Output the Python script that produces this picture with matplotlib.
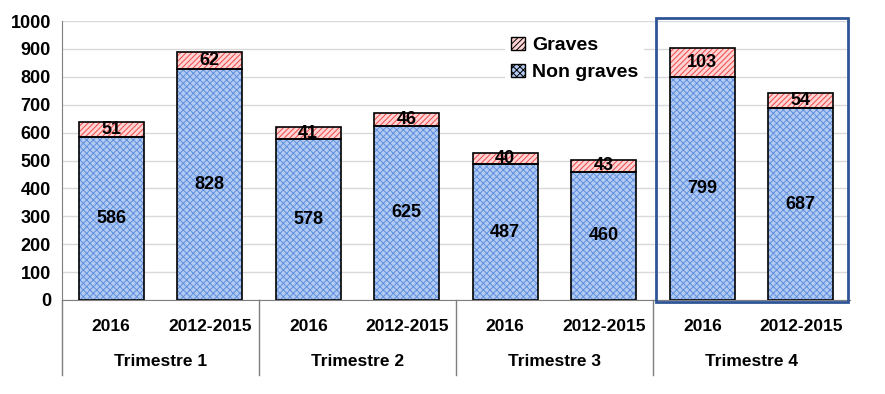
import matplotlib

matplotlib.use("Agg")
import matplotlib.pyplot as plt
from matplotlib.patches import Rectangle, Patch
import numpy as np

plt.rcParams["font.family"] = ["Liberation Sans", "DejaVu Sans"]
plt.rcParams["hatch.linewidth"] = 0.7

quarters = ["Trimestre 1", "Trimestre 2", "Trimestre 3", "Trimestre 4"]
periods = ["2016", "2012-2015"]
non_graves = [586, 828, 578, 625, 487, 460, 799, 687]
graves = [51, 62, 41, 46, 40, 43, 103, 54]

blue = "#b3cbf2"
blue_hatch = "#5f8fdc"
red = "#ffd4d4"
red_hatch = "#ee4848"

fig = plt.figure(figsize=(8.85, 3.94), dpi=100)
ax = fig.add_axes([62 / 885, 1 - 300 / 394, 788 / 885, 279 / 394])

x = np.arange(len(non_graves))
w = 0.66

# fills with pattern, then a black outline on top
ax.bar(x, non_graves, w, color=blue, edgecolor=blue_hatch, linewidth=0, hatch="xxxxx")
ax.bar(x, graves, w, bottom=non_graves, color=red, edgecolor=red_hatch, linewidth=0,
       hatch="//////")
ax.bar(x, non_graves, w, color="none", edgecolor="black", linewidth=1.2)
ax.bar(x, graves, w, bottom=non_graves, color="none", edgecolor="black", linewidth=1.2)

for xi, ng, g in zip(x, non_graves, graves):
    ax.text(xi, ng / 2, str(ng), ha="center", va="center", fontsize=13,
            fontweight="bold", zorder=10)
    ax.text(xi, ng + g / 2, str(g), ha="center", va="center", fontsize=13,
            fontweight="bold", zorder=10)

ax.set_xlim(-0.5, len(non_graves) - 0.5)
ax.set_ylim(0, 1000)
ax.set_yticks(range(0, 1001, 100))
ax.tick_params(axis="y", length=0, labelsize=13, pad=8)
for lbl in ax.get_yticklabels():
    lbl.set_fontweight("bold")
ax.set_xticks([])
ax.grid(axis="y", color="#d9d9d9", linewidth=1)
ax.set_axisbelow(True)
for s in ["top", "right"]:
    ax.spines[s].set_visible(False)
ax.spines["left"].set_color("#7f7f7f")
ax.spines["bottom"].set_color("#7f7f7f")

# two-level category labels
xt = ax.get_xaxis_transform()
for xi in x:
    ax.text(xi, -0.095, periods[xi % 2], transform=xt,
            ha="center", va="center", fontsize=12.5, fontweight="bold")
for qi, q in enumerate(quarters):
    ax.text(2 * qi + 0.5, -0.22, q, transform=xt,
            ha="center", va="center", fontsize=12.5, fontweight="bold")
for qi in range(len(quarters)):
    ax.plot([2 * qi - 0.5] * 2, [0, -0.27], transform=xt,
            color="#7f7f7f", linewidth=1, clip_on=False)

# highlight box around Trimestre 4
ax.add_patch(Rectangle((5.5 + 0.03, -0.008), 1.95, 1.02, transform=xt,
                       fill=False, edgecolor="#2f5597", linewidth=2, clip_on=False, zorder=5))

handles = [Patch(facecolor=red, edgecolor="black", hatch="//////", label="Graves"),
           Patch(facecolor=blue, edgecolor="black", hatch="xxxxx", label="Non graves")]
leg = ax.legend(handles=handles, loc="upper left", bbox_to_anchor=(0.55, 1.0),
                frameon=True, edgecolor="none", fancybox=False, framealpha=1,
                prop={"weight": "bold", "size": 14}, handlelength=0.7, handleheight=0.7,
                handletextpad=0.4, labelspacing=0.5, borderpad=0.3)

fig.savefig("out.png", dpi=100)
